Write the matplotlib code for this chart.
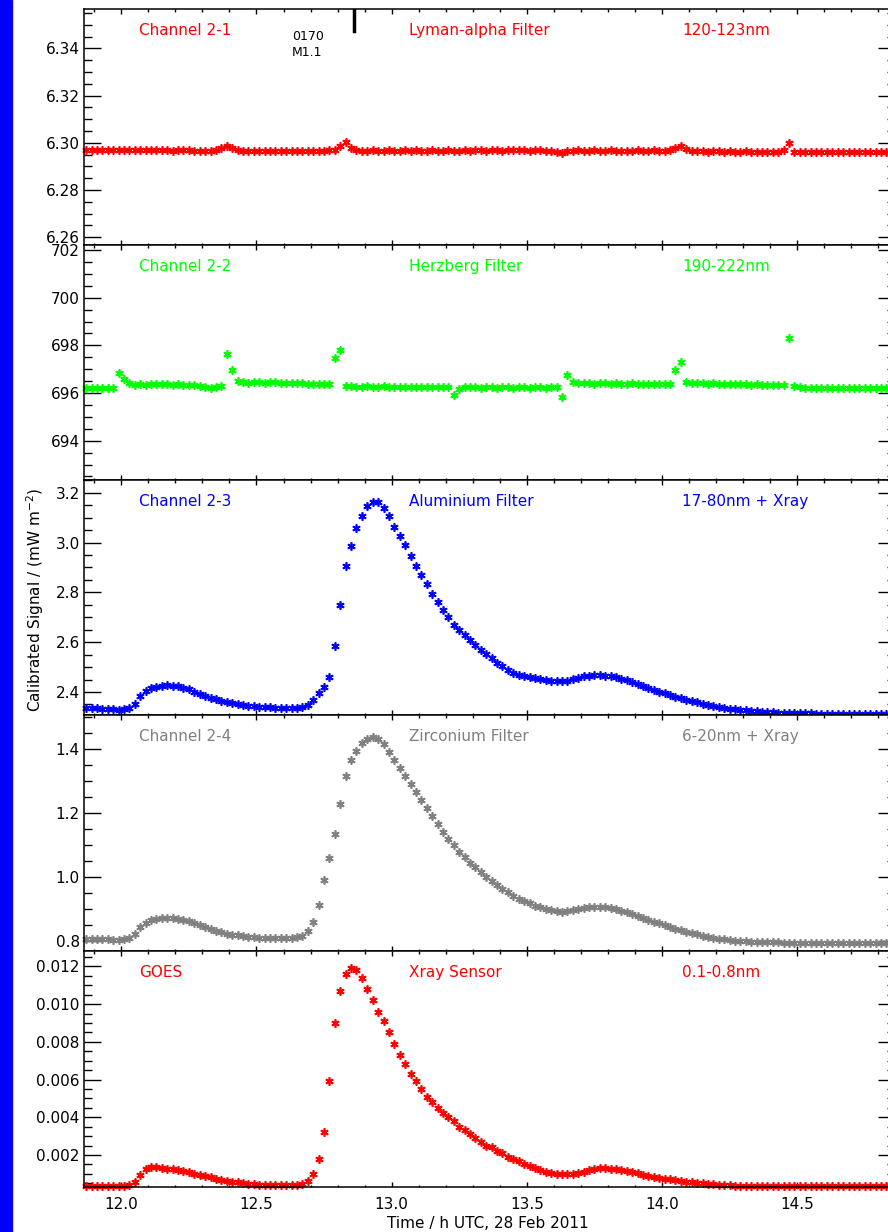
import numpy as np
import matplotlib
matplotlib.use("Agg")
import matplotlib.pyplot as plt
from matplotlib.patches import Rectangle
from matplotlib.ticker import MultipleLocator, FormatStrFormatter

# sampling of the time axis (h UTC), one sample every 0.02 h
t_start = 11.87
cadence = 0.02

# Channel 2-1, Lyman-alpha (mW m-2)
lyman = [
    6.2970, 6.2968, 6.2971, 6.2969, 6.2970, 6.2968, 6.2970, 6.2969, 6.2968, 6.2970,
    6.2969, 6.2971, 6.2969, 6.2968, 6.2970, 6.2969, 6.2967, 6.2968, 6.2969, 6.2968,
    6.2967, 6.2966, 6.2967, 6.2965, 6.2968, 6.2976, 6.2986, 6.2978, 6.2969, 6.2967,
    6.2966, 6.2965, 6.2967, 6.2964, 6.2966, 6.2965, 6.2967, 6.2966, 6.2965, 6.2967,
    6.2966, 6.2967, 6.2965, 6.2967, 6.2966, 6.2968, 6.2970, 6.2985, 6.3003, 6.2978,
    6.2968, 6.2967, 6.2966, 6.2968, 6.2967, 6.2966, 6.2968, 6.2967, 6.2966, 6.2968,
    6.2967, 6.2968, 6.2966, 6.2967, 6.2969, 6.2967, 6.2966, 6.2968, 6.2967, 6.2966,
    6.2968, 6.2967, 6.2969, 6.2968, 6.2967, 6.2969, 6.2968, 6.2967, 6.2969, 6.2968,
    6.2969, 6.2968, 6.2967, 6.2969, 6.2968, 6.2967, 6.2966, 6.2962, 6.2957, 6.2964,
    6.2967, 6.2968, 6.2967, 6.2966, 6.2968, 6.2967, 6.2966, 6.2968, 6.2967, 6.2966,
    6.2967, 6.2966, 6.2968, 6.2967, 6.2966, 6.2968, 6.2967, 6.2966, 6.2970, 6.2980,
    6.2986, 6.2972, 6.2965, 6.2964, 6.2965, 6.2963, 6.2964, 6.2965, 6.2963, 6.2964,
    6.2963, 6.2962, 6.2964, 6.2963, 6.2962, 6.2963, 6.2961, 6.2962, 6.2963, 6.2968,
    6.3000, 6.2959, 6.2960, 6.2961, 6.2962, 6.2960, 6.2961, 6.2962, 6.2960, 6.2961,
    6.2961, 6.2960, 6.2962, 6.2961, 6.2960, 6.2961, 6.2962, 6.2960, 6.2961, 6.2960,
]

# Channel 2-2, Herzberg
herzberg = [
    696.21, 696.20, 696.22, 696.21, 696.20, 696.22, 696.82, 696.60, 696.42, 696.35,
    696.36, 696.34, 696.37, 696.36, 696.38, 696.36, 696.35, 696.37, 696.34, 696.33,
    696.33, 696.30, 696.26, 696.23, 696.24, 696.30, 697.65, 696.95, 696.52, 696.45,
    696.44, 696.46, 696.45, 696.44, 696.46, 696.45, 696.43, 696.42, 696.40, 696.41,
    696.40, 696.38, 696.37, 696.38, 696.36, 696.37, 697.45, 697.80, 696.30, 696.28,
    696.27, 696.26, 696.28, 696.27, 696.26, 696.28, 696.27, 696.26, 696.25, 696.27,
    696.26, 696.25, 696.27, 696.26, 696.25, 696.26, 696.24, 696.25, 695.92, 696.15,
    696.24, 696.25, 696.24, 696.23, 696.25, 696.24, 696.23, 696.25, 696.24, 696.23,
    696.24, 696.25, 696.23, 696.24, 696.25, 696.23, 696.24, 696.25, 695.85, 696.75,
    696.45, 696.42, 696.40, 696.41, 696.39, 696.40, 696.41, 696.39, 696.40, 696.38,
    696.39, 696.40, 696.38, 696.39, 696.37, 696.36, 696.38, 696.37, 696.36, 696.95,
    697.30, 696.48, 696.42, 696.40, 696.41, 696.39, 696.40, 696.38, 696.39, 696.37,
    696.38, 696.36, 696.37, 696.35, 696.36, 696.34, 696.35, 696.33, 696.34, 696.33,
    698.30, 696.30, 696.24, 696.22, 696.21, 696.23, 696.22, 696.21, 696.22, 696.20,
    696.21, 696.22, 696.20, 696.21, 696.22, 696.20, 696.21, 696.22, 696.20, 696.21,
]

# Channel 2-3, Aluminium
aluminium = [
    2.336, 2.335, 2.334, 2.333, 2.331, 2.330, 2.329, 2.330, 2.334, 2.352,
    2.385, 2.405, 2.416, 2.422, 2.426, 2.427, 2.426, 2.423, 2.418, 2.411,
    2.402, 2.393, 2.385, 2.377, 2.370, 2.364, 2.359, 2.355, 2.351, 2.348,
    2.345, 2.342, 2.340, 2.339, 2.338, 2.337, 2.336, 2.336, 2.336, 2.337,
    2.340, 2.348, 2.368, 2.395, 2.420, 2.460, 2.585, 2.750, 2.905, 2.987,
    3.060, 3.105, 3.145, 3.163, 3.162, 3.140, 3.105, 3.063, 3.025, 2.990,
    2.945, 2.905, 2.870, 2.835, 2.795, 2.760, 2.730, 2.700, 2.670, 2.650,
    2.630, 2.610, 2.590, 2.570, 2.553, 2.535, 2.518, 2.505, 2.490, 2.478,
    2.470, 2.465, 2.459, 2.455, 2.451, 2.448, 2.445, 2.443, 2.443, 2.445,
    2.452, 2.458, 2.463, 2.466, 2.468, 2.468, 2.466, 2.463, 2.459, 2.453,
    2.447, 2.440, 2.432, 2.424, 2.416, 2.409, 2.402, 2.395, 2.388, 2.381,
    2.375, 2.369, 2.364, 2.358, 2.353, 2.348, 2.344, 2.340, 2.336, 2.333,
    2.330, 2.328, 2.326, 2.324, 2.322, 2.320, 2.319, 2.318, 2.317, 2.316,
    2.315, 2.315, 2.314, 2.314, 2.314, 2.313, 2.313, 2.313, 2.313, 2.313,
    2.313, 2.312, 2.313, 2.313, 2.312, 2.313, 2.312, 2.313, 2.313, 2.312,
]

# Channel 2-4, Zirconium
zirconium = [
    0.807, 0.806, 0.806, 0.805, 0.805, 0.804, 0.804, 0.805, 0.808, 0.822,
    0.843, 0.858, 0.866, 0.870, 0.872, 0.873, 0.872, 0.870, 0.867, 0.862,
    0.856, 0.850, 0.844, 0.838, 0.832, 0.827, 0.823, 0.820, 0.818, 0.816,
    0.814, 0.812, 0.811, 0.810, 0.809, 0.809, 0.809, 0.809, 0.810, 0.812,
    0.817, 0.830, 0.860, 0.913, 0.990, 1.060, 1.135, 1.230, 1.315, 1.365,
    1.395, 1.418, 1.432, 1.437, 1.432, 1.415, 1.390, 1.365, 1.340, 1.315,
    1.290, 1.265, 1.240, 1.215, 1.190, 1.165, 1.140, 1.120, 1.100, 1.080,
    1.062, 1.045, 1.030, 1.015, 1.000, 0.987, 0.975, 0.963, 0.952, 0.942,
    0.933, 0.925, 0.918, 0.911, 0.905, 0.900, 0.896, 0.893, 0.892, 0.893,
    0.896, 0.900, 0.903, 0.906, 0.907, 0.907, 0.905, 0.902, 0.899, 0.895,
    0.890, 0.885, 0.879, 0.873, 0.867, 0.861, 0.855, 0.849, 0.844, 0.839,
    0.834, 0.829, 0.825, 0.821, 0.817, 0.813, 0.810, 0.807, 0.805, 0.803,
    0.801, 0.800, 0.799, 0.798, 0.797, 0.797, 0.796, 0.796, 0.796, 0.795,
    0.795, 0.795, 0.795, 0.795, 0.794, 0.794, 0.794, 0.794, 0.794, 0.794,
    0.794, 0.794, 0.793, 0.794, 0.794, 0.793, 0.794, 0.794, 0.793, 0.794,
]

# GOES Xray sensor
goes = [
    0.00037, 0.00037, 0.00036, 0.00037, 0.00037, 0.00036, 0.00037, 0.00037, 0.00042, 0.00058,
    0.00092, 0.00125, 0.00138, 0.00137, 0.00133, 0.00128, 0.00123, 0.00118, 0.00113, 0.00108,
    0.00100, 0.00094, 0.00088, 0.00082, 0.00075, 0.00069, 0.00063, 0.00058, 0.00054, 0.00050,
    0.00047, 0.00045, 0.00043, 0.00042, 0.00041, 0.00040, 0.00040, 0.00040, 0.00040, 0.00041,
    0.00045, 0.00060, 0.00100, 0.00180, 0.00320, 0.00590, 0.00900, 0.01070, 0.01160, 0.01190,
    0.01180, 0.01140, 0.01080, 0.01020, 0.00960, 0.00910, 0.00850, 0.00790, 0.00730, 0.00680,
    0.00630, 0.00590, 0.00550, 0.00510, 0.00480, 0.00450, 0.00420, 0.00400, 0.00380, 0.00350,
    0.00330, 0.00310, 0.00290, 0.00270, 0.00250, 0.00240, 0.00220, 0.00210, 0.00190, 0.00180,
    0.00170, 0.00150, 0.00140, 0.00130, 0.00120, 0.00110, 0.00105, 0.00100, 0.00098, 0.00098,
    0.00100, 0.00105, 0.00110, 0.00122, 0.00128, 0.00130, 0.00130, 0.00127, 0.00123, 0.00118,
    0.00113, 0.00108, 0.00102, 0.00096, 0.00090, 0.00084, 0.00079, 0.00074, 0.00070, 0.00066,
    0.00062, 0.00058, 0.00055, 0.00052, 0.00049, 0.00046, 0.00044, 0.00042, 0.00040, 0.00038,
    0.00037, 0.00036, 0.00035, 0.00035, 0.00034, 0.00034, 0.00034, 0.00033, 0.00033, 0.00033,
    0.00033, 0.00034, 0.00033, 0.00033, 0.00034, 0.00033, 0.00033, 0.00034, 0.00033, 0.00033,
    0.00033, 0.00033, 0.00034, 0.00033, 0.00033, 0.00034, 0.00033, 0.00033, 0.00033, 0.00034,
]

series = [lyman, herzberg, aluminium, zirconium, goes]
colors = ['#ff0000', '#00ff00', '#0000ff', '#808080', '#ff0000']
left_labels = ['Channel 2-1', 'Channel 2-2', 'Channel 2-3', 'Channel 2-4', 'GOES']
mid_labels = ['Lyman-alpha Filter', 'Herzberg Filter', 'Aluminium Filter',
              'Zirconium Filter', 'Xray Sensor']
right_labels = ['120-123nm', '190-222nm', '17-80nm + Xray', '6-20nm + Xray', '0.1-0.8nm']

ylims = [(6.2567, 6.3567), (692.35, 702.21), (2.3077, 3.251), (0.7689, 1.5068), (0.0003, 0.01282)]
ymajor = [0.02, 2, 0.2, 0.2, 0.002]
yminor = [0.005, 0.5, 0.05, 0.05, 0.0005]
yfmt = ['%.2f', '%d', '%.1f', '%.1f', '%.3f']

flare_time = 12.862
flare_labels = ['0170', 'M1.1']

time = t_start + cadence * np.arange(len(aluminium))

plt.rcParams['font.family'] = 'DejaVu Sans'
plt.rcParams['font.size'] = 11

W, H = 888, 1232
fig = plt.figure(figsize=(W / 100, H / 100), dpi=100)
fig.patches.append(Rectangle((0, 0), 12 / W, 1, transform=fig.transFigure,
                             color='#0000ff', zorder=0))

edges = [9, 245, 480, 715, 951, 1187]
x_left, x_right = 84, 895
axes = []
for i in range(5):
    top, bot = edges[i], edges[i + 1]
    ax = fig.add_axes([x_left / W, 1 - bot / H, (x_right - x_left) / W, (bot - top) / H])
    axes.append(ax)

    ax.plot(time, series[i], ls='none', marker=(6, 2, 0), ms=6, mew=1.2,
            color=colors[i], clip_on=False)

    ax.set_xlim(11.862, 14.862)
    ax.set_ylim(*ylims[i])
    ax.xaxis.set_major_locator(MultipleLocator(0.5))
    ax.xaxis.set_minor_locator(MultipleLocator(0.1))
    ax.xaxis.set_major_formatter(FormatStrFormatter('%.1f'))
    ax.yaxis.set_major_locator(MultipleLocator(ymajor[i]))
    ax.yaxis.set_minor_locator(MultipleLocator(yminor[i]))
    ax.yaxis.set_major_formatter(FormatStrFormatter(yfmt[i]))

    ax.tick_params(axis='x', which='major', direction='in', length=3.6, width=1,
                   top=True, bottom=True, pad=7, labelbottom=(i == 4))
    ax.tick_params(axis='x', which='minor', direction='in', length=1.8, width=1,
                   top=True, bottom=True)
    ax.tick_params(axis='y', which='major', direction='in', length=12, width=1,
                   left=True, right=True, pad=3)
    ax.tick_params(axis='y', which='minor', direction='in', length=5.8, width=1,
                   left=True, right=True)
    for s in ax.spines.values():
        s.set_linewidth(1.1)

    for xf, txt in zip([0.0678, 0.4007, 0.7374], [left_labels[i], mid_labels[i], right_labels[i]]):
        ax.text(xf, 0.909, txt, transform=ax.transAxes, color=colors[i],
                ha='left', va='center', fontsize=11)

# flare marker in the top panel
axes[0].axvline(flare_time, ymin=0.907, ymax=1.0, color='black', lw=2.5)
fig.text(292 / W, 1 - 36 / H, flare_labels[0], fontsize=9, ha='left', va='center')
fig.text(292 / W, 1 - 52 / H, flare_labels[1], fontsize=9, ha='left', va='center')

fig.text(35 / W, 1 - 600 / H, r'Calibrated Signal / (mW m$^{-2}$)', rotation=90,
         ha='center', va='center', fontsize=11)
fig.text(488 / W, 1 - 1223 / H, 'Time / h UTC, 28 Feb 2011', ha='center', va='center',
         fontsize=11)

fig.savefig('out.png', dpi=100, facecolor='white')
